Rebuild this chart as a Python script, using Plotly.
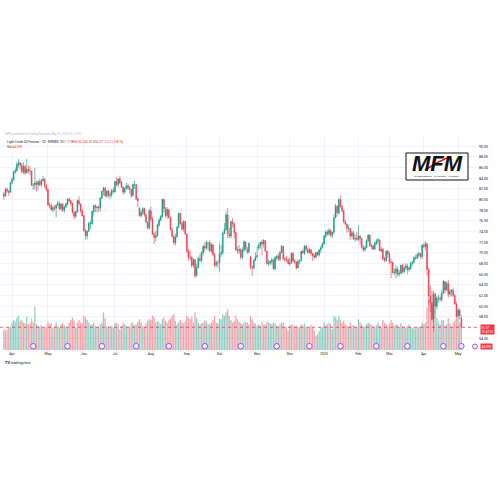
import pandas as pd
import plotly.graph_objects as go

# ---------------- data ----------------
holidays = ["2024-03-29", "2024-05-27", "2024-06-19", "2024-07-04", "2024-09-02",
            "2024-11-28", "2024-12-25", "2025-01-01", "2025-01-20", "2025-02-17", "2025-04-18"]
dates = [d.strftime("%Y-%m-%d") for d in pd.bdate_range("2024-03-22", "2025-05-05")
         if d.strftime("%Y-%m-%d") not in holidays]

opens = [
    81.05, 80.70, 81.90, 81.60, 81.40,
    83.20, 83.75, 85.20, 85.40, 86.60, 86.90, 86.40, 85.20, 86.20, 85.05, 85.70, 85.40, 85.30, 82.70, 82.80, 83.10, 82.80, 83.40, 82.80, 83.60, 83.80, 82.60,
    81.90, 79.00, 78.90, 78.10, 78.50, 78.40, 79.00, 79.30, 78.30, 79.10, 78.00, 78.60, 79.20, 80.10, 79.80, 79.30, 77.60, 76.90, 77.70, 79.80, 79.20, 77.90,
    77.00, 74.20, 73.20, 74.10, 75.50, 75.50, 77.70, 78.90, 78.50, 78.60, 78.40, 80.30, 81.60, 82.20, 80.70, 81.60, 80.80, 80.90, 81.70,
    81.50, 83.40, 82.80, 83.90, 83.20, 82.30, 81.40, 82.10, 82.60, 82.20, 81.90, 80.80, 82.80, 82.80, 80.10, 78.40, 77.00, 77.60, 78.30, 77.10, 75.80, 74.70,
    77.90, 76.30, 73.50, 72.90, 73.20, 75.20, 76.20, 76.80, 80.00, 78.30, 77.00, 78.10, 76.60, 74.30, 73.10, 71.90, 73.00, 74.80, 77.40, 75.50, 74.50, 75.90,
    73.50, 70.30, 69.20, 69.10, 67.70, 68.70, 65.80, 67.30, 68.90, 68.60, 70.00, 71.20, 70.90, 71.90, 71.90, 70.40, 71.50, 69.70, 67.70, 68.20,
    68.20, 69.80, 70.10, 73.70, 74.40, 77.10, 73.50, 73.20, 75.80, 75.50, 73.80, 70.50, 70.40, 70.60, 69.20, 70.50, 72.00, 70.70, 70.20, 69.20, 67.30, 67.20, 68.60,
    69.30, 70.90, 71.40, 72.00, 71.70, 72.30, 70.30, 68.00, 68.10, 68.40, 68.70, 67.00, 69.10, 69.40, 68.80, 70.10, 71.20, 68.90, 68.80, 68.70,
    68.00, 68.10, 69.90, 68.50, 68.30, 67.20, 68.40, 68.60, 70.30, 70.00, 71.30, 70.70, 70.10, 70.60, 69.90, 69.50, 69.20, 70.10, 69.60, 70.60, 71.00,
    71.70, 73.10, 73.90, 73.60, 74.20, 73.30, 73.90, 76.60, 78.80, 77.50, 80.00, 78.70, 77.80, 75.80, 75.40, 74.60, 74.60, 73.20, 73.80, 72.60, 72.70,
    72.50, 73.20, 72.70, 71.00, 70.60, 71.00, 72.30, 73.30, 71.40, 71.30, 70.70, 71.80, 72.30, 72.40, 70.40, 70.70, 68.90, 68.60, 70.30,
    69.80, 68.30, 68.20, 66.30, 66.30, 67.00, 66.00, 66.20, 67.70, 66.50, 67.20, 67.50, 66.90, 67.10, 68.00, 68.30, 69.10, 69.00, 69.60, 69.90, 69.30,
    71.40, 71.20, 71.70, 66.90, 62.00, 60.70, 57.60, 62.30, 60.00, 61.50, 61.50, 61.30, 62.50, 64.60, 63.10, 64.30, 62.30, 62.80, 63.00, 62.00, 60.40,
    58.20, 59.20, 57.77,
]
highs = [
    81.40, 82.20, 82.35, 81.85, 83.30,
    84.20, 85.50, 86.00, 87.10, 87.60, 87.00, 86.80, 87.00, 86.50, 87.67, 86.40, 86.30, 85.40, 83.10, 86.00, 83.60, 83.70, 83.90, 83.80, 84.40, 84.00, 82.90,
    82.10, 79.50, 79.30, 78.90, 78.90, 79.10, 79.80, 79.70, 79.40, 79.40, 78.90, 79.40, 80.20, 80.40, 79.90, 79.40, 77.90, 77.80, 80.00, 80.60, 79.30, 78.30,
    77.10, 74.50, 74.20, 75.90, 76.00, 77.90, 78.90, 79.10, 78.80, 78.90, 80.40, 81.60, 82.40, 82.30, 81.80, 81.90, 81.40, 82.00, 82.30,
    83.50, 84.20, 84.00, 84.50, 83.50, 82.50, 82.30, 83.20, 83.00, 82.60, 82.00, 83.00, 83.60, 82.90, 80.40, 78.60, 78.00, 78.60, 78.50, 77.50, 75.90, 78.30,
    78.70, 76.80, 73.90, 74.10, 75.50, 76.60, 77.10, 80.20, 80.10, 78.60, 78.60, 78.20, 76.80, 74.80, 73.40, 73.60, 75.00, 77.60, 77.50, 75.80, 76.10, 76.00,
    73.60, 70.80, 70.50, 69.50, 69.10, 68.90, 68.00, 69.30, 69.80, 70.30, 71.50, 72.00, 72.30, 72.00, 72.40, 71.90, 71.70, 70.00, 68.60, 68.60,
    71.90, 71.50, 74.00, 75.60, 77.80, 78.46, 74.70, 76.10, 76.60, 75.70, 73.90, 71.20, 71.50, 70.90, 71.10, 72.40, 72.20, 71.20, 72.00, 69.50, 67.70, 68.90, 70.10,
    71.20, 71.80, 72.10, 72.50, 72.60, 72.40, 70.40, 68.80, 68.60, 69.10, 68.90, 69.40, 69.70, 69.90, 70.40, 71.50, 71.40, 69.30, 69.40, 69.10,
    69.00, 70.10, 70.20, 68.90, 68.40, 68.80, 68.80, 70.40, 70.70, 71.40, 71.50, 70.90, 71.00, 70.70, 70.00, 69.90, 70.20, 70.30, 70.70, 71.40, 72.00,
    73.40, 74.20, 74.40, 74.70, 74.40, 74.00, 77.20, 79.20, 78.90, 80.20, 80.77, 79.00, 78.10, 76.20, 75.50, 75.30, 74.80, 74.20, 74.10, 73.50, 73.90,
    75.18, 73.30, 72.80, 71.50, 71.40, 72.60, 73.60, 73.50, 71.70, 71.50, 72.10, 72.60, 72.80, 72.50, 71.10, 70.90, 69.30, 70.50, 70.60,
    70.20, 68.90, 68.40, 67.10, 67.70, 67.40, 66.80, 67.80, 68.00, 67.50, 68.10, 68.00, 67.50, 68.30, 68.50, 69.40, 69.70, 70.00, 70.20, 70.00, 71.60,
    71.90, 72.20, 71.90, 67.20, 63.90, 62.90, 62.90, 62.60, 61.90, 62.20, 62.00, 63.00, 64.90, 64.70, 64.60, 65.00, 63.30, 63.20, 63.50, 62.30, 60.90,
    59.70, 59.60, 58.36,
]
lows = [
    80.00, 80.55, 81.30, 80.70, 81.30,
    82.90, 83.50, 84.80, 85.30, 86.00, 85.60, 84.90, 84.80, 84.60, 84.90, 84.90, 84.60, 82.60, 81.90, 81.80, 81.50, 81.80, 82.50, 82.30, 83.40, 82.20, 81.50,
    78.80, 78.30, 77.90, 77.60, 77.90, 76.70, 78.80, 78.10, 77.90, 77.70, 77.50, 78.50, 78.90, 79.50, 78.80, 77.40, 76.30, 76.50, 77.50, 78.90, 77.50, 76.80,
    73.90, 72.50, 72.50, 73.90, 74.50, 75.30, 77.00, 77.60, 77.60, 77.70, 77.80, 80.10, 80.80, 80.50, 80.30, 80.40, 80.10, 80.40, 81.20,
    81.30, 82.50, 82.30, 82.90, 82.20, 80.90, 81.10, 81.90, 81.80, 81.20, 80.30, 80.50, 82.00, 79.90, 78.60, 76.80, 76.60, 77.10, 76.80, 75.60, 74.40, 74.40,
    75.90, 73.40, 71.70, 72.20, 73.10, 74.90, 75.90, 76.60, 77.60, 76.60, 76.40, 76.40, 74.20, 72.80, 71.50, 71.40, 72.90, 74.70, 75.30, 74.10, 74.00, 73.40,
    70.00, 68.60, 68.60, 67.20, 67.30, 65.27, 65.50, 67.10, 68.30, 68.20, 69.50, 70.20, 70.60, 70.50, 70.20, 70.00, 69.50, 67.30, 67.40, 67.20,
    66.50, 69.20, 69.60, 73.50, 74.20, 72.80, 72.70, 72.80, 74.80, 72.80, 70.30, 69.80, 69.80, 68.80, 68.80, 70.20, 70.50, 69.80, 69.90, 66.90, 65.70, 66.90, 68.50,
    69.00, 70.50, 70.80, 69.60, 71.00, 70.20, 67.80, 67.50, 67.70, 67.80, 66.90, 66.80, 68.60, 68.50, 68.40, 69.90, 68.60, 68.20, 68.30, 67.80,
    67.60, 68.00, 68.30, 67.90, 66.90, 67.10, 67.90, 68.40, 69.80, 69.60, 70.40, 69.90, 69.80, 69.60, 68.50, 68.90, 69.10, 69.50, 69.30, 70.00, 70.90,
    71.60, 72.80, 73.20, 73.20, 72.90, 72.80, 73.60, 76.50, 76.80, 77.20, 78.50, 77.60, 75.60, 75.20, 73.70, 74.00, 72.50, 73.00, 72.40, 72.10, 72.30,
    72.20, 71.50, 70.80, 70.20, 70.30, 70.90, 72.00, 71.10, 70.70, 70.50, 70.60, 71.50, 71.60, 70.30, 70.10, 68.60, 68.20, 68.40, 69.10,
    67.90, 65.30, 66.10, 65.90, 65.20, 65.60, 65.60, 66.00, 66.10, 66.20, 66.80, 66.00, 66.40, 66.90, 67.50, 68.00, 68.80, 68.90, 69.20, 68.90, 68.80,
    70.90, 70.50, 65.70, 60.20, 58.95, 57.40, 55.12, 58.80, 59.40, 60.70, 60.90, 60.80, 62.30, 62.40, 62.80, 61.60, 61.80, 61.80, 61.70, 60.30, 57.90,
    57.40, 57.60, 55.30,
]
closes = [
    80.63, 81.95, 81.62, 81.35, 83.17,
    83.71, 85.15, 85.43, 86.59, 86.91, 86.43, 85.23, 86.21, 85.02, 85.66, 85.41, 85.36, 82.69, 82.73, 83.14, 82.85, 83.36, 82.81, 83.57, 83.85, 82.63, 81.93,
    79.00, 78.95, 78.11, 78.48, 78.38, 78.99, 79.26, 78.26, 79.12, 78.02, 78.63, 79.23, 80.06, 79.80, 79.26, 77.57, 76.87, 77.72, 79.83, 79.23, 77.91, 76.99,
    74.22, 73.25, 74.07, 75.55, 75.53, 77.74, 78.90, 78.50, 78.62, 78.45, 80.33, 81.57, 82.17, 80.73, 81.63, 80.83, 80.90, 81.74, 81.54,
    83.38, 82.81, 83.88, 83.16, 82.33, 81.41, 82.10, 82.62, 82.21, 81.91, 80.76, 82.85, 82.82, 80.13, 79.78, 76.96, 77.59, 78.28, 77.16, 75.81, 74.73, 77.91,
    76.31, 73.52, 72.94, 73.20, 75.23, 76.19, 76.84, 80.06, 78.35, 76.98, 78.16, 76.65, 74.37, 73.17, 71.93, 73.01, 74.83, 77.42, 75.53, 74.52, 75.91, 73.55,
    70.34, 69.20, 69.15, 67.67, 68.71, 65.75, 67.31, 68.97, 68.65, 70.09, 71.19, 70.91, 71.95, 71.92, 70.37, 71.56, 69.69, 67.67, 68.18, 68.17,
    69.83, 70.10, 73.71, 74.38, 77.14, 73.57, 73.24, 75.85, 75.56, 73.83, 70.58, 70.39, 70.67, 69.22, 70.56, 72.09, 70.77, 70.19, 71.78, 67.38, 67.21, 68.61, 69.26,
    69.49, 71.47, 71.99, 71.69, 72.36, 70.38, 68.04, 68.12, 68.43, 68.70, 67.02, 69.16, 69.39, 68.87, 70.10, 71.24, 68.94, 68.77, 68.72, 68.00,
    68.10, 69.94, 68.54, 68.30, 67.20, 68.37, 68.59, 70.29, 70.02, 71.29, 70.71, 70.08, 70.58, 69.91, 69.46, 69.24, 70.10, 69.62, 70.60, 70.99, 71.72,
    73.13, 73.96, 73.56, 74.25, 73.32, 73.92, 76.57, 78.82, 77.50, 80.04, 78.68, 77.88, 75.83, 75.44, 74.62, 74.66, 73.17, 73.77, 72.62, 72.73, 72.53,
    73.16, 72.70, 71.03, 70.61, 71.00, 72.32, 73.32, 71.37, 71.29, 70.74, 71.85, 72.25, 72.48, 70.40, 70.70, 68.93, 68.62, 70.35, 69.76,
    68.37, 68.26, 66.31, 66.36, 67.04, 66.03, 66.25, 67.68, 66.55, 67.18, 67.58, 66.90, 67.16, 68.07, 68.28, 69.11, 69.00, 69.65, 69.92, 69.36, 71.48,
    71.20, 71.71, 66.95, 61.99, 60.70, 57.58, 62.35, 60.07, 61.50, 61.53, 61.33, 62.47, 64.68, 63.08, 64.31, 62.27, 62.79, 63.02, 62.05, 60.42, 58.21,
    59.24, 58.29, 56.07,
]
volumes_k = [
    250, 230, 240, 270, 280,
    330, 360, 340, 390, 410, 350, 360, 330, 320, 400, 310, 330, 370, 330, 520, 310, 290, 280, 300, 270, 260, 280,
    340, 310, 320, 260, 280, 330, 290, 270, 310, 320, 300, 280, 270, 330, 360, 390, 350, 270, 330, 360, 330, 320,
    410, 390, 360, 330, 300, 310, 330, 290, 280, 270, 310, 330, 450, 380, 290, 280, 260, 290, 270,
    320, 330, 310, 250, 290, 330, 310, 290, 270, 280, 320, 330, 300, 310, 340, 370, 330, 290, 280, 320, 350, 370,
    360, 410, 390, 330, 350, 330, 310, 370, 390, 350, 330, 360, 380, 410, 430, 350, 310, 330, 360, 330, 320, 340,
    410, 390, 370, 400, 330, 450, 390, 330, 310, 320, 330, 360, 340, 310, 310, 330, 360, 410, 330, 320,
    380, 370, 430, 410, 450, 490, 410, 360, 330, 350, 410, 370, 340, 320, 310, 330, 340, 330, 310, 410, 370, 330, 320,
    290, 310, 290, 330, 300, 310, 340, 330, 320, 310, 330, 320, 290, 280, 310, 330, 330, 270, 280, 230,
    290, 310, 300, 280, 290, 280, 270, 310, 290, 320, 270, 260, 280, 300, 270, 230, 170, 190, 230, 260, 280,
    330, 290, 310, 330, 310, 250, 410, 390, 360, 410, 360, 330, 350, 310, 290, 280, 330, 290, 300, 280, 270,
    370, 330, 310, 280, 290, 310, 330, 320, 300, 280, 260, 300, 330, 290, 270, 360, 330, 310, 290,
    320, 360, 330, 290, 310, 300, 280, 320, 290, 270, 260, 290, 310, 280, 260, 270, 260, 270, 280, 280, 330,
    310, 330, 510, 590, 610, 550, 630, 470, 380, 340, 310, 350, 360, 290, 310, 380, 320, 280, 330, 350, 410,
    360, 330, 220,
]
month_tick_dates = ["2024-04-01", "2024-05-01", "2024-06-03", "2024-07-01", "2024-08-01", "2024-09-03",
                    "2024-10-01", "2024-11-01", "2024-12-02", "2025-01-02", "2025-02-03", "2025-03-03",
                    "2025-04-01", "2025-05-01"]
month_tick_labels = ["Apr", "May", "Jun", "Jul", "Aug", "Sep", "Oct", "Nov", "Dec", "2025", "Feb", "Mar", "Apr", "May"]
event_dates = ["2024-04-18", "2024-05-17", "2024-06-18", "2024-07-19", "2024-08-16", "2024-09-18",
               "2024-10-18", "2024-11-19", "2024-12-18", "2025-01-16", "2025-02-19", "2025-03-18",
               "2025-04-17", "2025-05-05"]
# 56.00 sits under the live price tag in the reference, so it is not drawn
price_ticks = [54] + list(range(58, 91, 2))

assert len(dates) == len(opens) == len(highs) == len(lows) == len(closes) == len(volumes_k), (
    len(dates), len(opens), len(highs), len(lows), len(closes), len(volumes_k))

# ---------------- styling ----------------
UP = "#089981"
DOWN = "#F23645"
UP_VOL = "rgba(8,153,129,0.45)"
DOWN_VOL = "rgba(242,54,69,0.45)"
GRID = "#f0f3fa"
TXT = "#131722"

PLOT_TOP, PLOT_BOTTOM, PLOT_RIGHT = 137, 350, 478
PH = PLOT_BOTTOM - PLOT_TOP


def py(pix):  # pixel row -> paper y
    return (PLOT_BOTTOM - pix) / PH


def px(pix):  # pixel column -> paper x
    return pix / PLOT_RIGHT


vol_colors = [UP_VOL if c >= o else DOWN_VOL for o, c in zip(opens, closes)]

fig = go.Figure()
fig.add_trace(go.Bar(x=dates, y=volumes_k, marker=dict(color=vol_colors, line=dict(width=0)),
                     yaxis="y", xaxis="x", showlegend=False, hoverinfo="skip"))
fig.add_trace(go.Candlestick(x=dates, open=opens, high=highs, low=lows, close=closes,
                             increasing=dict(line=dict(color=UP, width=0.6), fillcolor=UP),
                             decreasing=dict(line=dict(color=DOWN, width=0.6), fillcolor=DOWN),
                             whiskerwidth=0, yaxis="y2", xaxis="x", showlegend=False))
fig.add_trace(go.Scatter(x=event_dates, y=[0.018] * len(event_dates), yaxis="y3", mode="markers",
                         marker=dict(symbol="circle", size=5.5, color="#f3e8fd",
                                     line=dict(color="#8e4ddb", width=0.9)),
                         showlegend=False, hoverinfo="skip"))

x_lo = -3.83 / 1.634
x_hi = (PLOT_RIGHT - 3.83) / 1.634
p_top = 72 + (242.3 - PLOT_TOP) / 5.335
p_bot = 72 - (PLOT_BOTTOM - 242.3) / 5.335

fig.update_layout(
    width=500, height=500,
    margin=dict(l=0, r=500 - PLOT_RIGHT, t=PLOT_TOP, b=500 - PLOT_BOTTOM),
    paper_bgcolor="white", plot_bgcolor="white",
    bargap=0.2, showlegend=False, hovermode=False, dragmode=False,
    xaxis=dict(type="category", range=[x_lo, x_hi], tickvals=month_tick_dates, ticktext=month_tick_labels,
               showgrid=True, gridcolor=GRID, gridwidth=1, ticks="", showline=False, zeroline=False,
               rangeslider=dict(visible=False), tickfont=dict(size=3.6, color=TXT, family="Roboto"),
               categoryorder="array", categoryarray=dates),
    yaxis=dict(range=[0, PH * 12], visible=False, fixedrange=True),
    yaxis2=dict(overlaying="y", side="right", range=[p_bot, p_top], tickvals=price_ticks,
                ticktext=[f"{v:.2f}" for v in price_ticks], showgrid=True, gridcolor=GRID, gridwidth=1,
                zeroline=False, showline=False, ticks="", tickfont=dict(size=3.6, color=TXT, family="Roboto")),
    yaxis3=dict(overlaying="y", range=[0, 1], visible=False),
)

# current price line
fig.add_shape(type="line", xref="paper", x0=0, x1=1, yref="y2", y0=closes[-1], y1=closes[-1],
              line=dict(color=DOWN, width=0.8, dash="dot"))

chg = closes[-1] - closes[-2]
pct = chg / closes[-2] * 100
red = lambda s: f"<span style='color:{DOWN}'>{s}</span>"
header = (f"Light Crude Oil Futures · 1D · NYMEX&nbsp;&nbsp;O{red(f'{opens[-1]:.2f}')} H{red(f'{highs[-1]:.2f}')} "
          f"L{red(f'{lows[-1]:.2f}')} C{red(f'{closes[-1]:.2f}')} {red(f'{chg:.2f} ({pct:.2f}%)')}")
fig.add_annotation(xref="paper", yref="paper", x=px(5), y=py(141.5), text=header, showarrow=False,
                   xanchor="left", yanchor="middle", font=dict(size=3.2, color=TXT, family="Roboto"))
vol_label = f"{volumes_k[-1] / 5:.2f}K"
fig.add_annotation(xref="paper", yref="paper", x=px(5), y=py(146.5), text=f"Vol {red(vol_label)}",
                   showarrow=False, xanchor="left", yanchor="middle", font=dict(size=3.2, color=TXT, family="Roboto"))
fig.add_annotation(xref="paper", yref="paper", x=px(3), y=py(133.5),
                   text="MFM published on TradingView.com, May 05, 2025 15:12 UTC", showarrow=False,
                   xanchor="left", yanchor="middle", font=dict(size=2.8, color="#b2b5be", family="Roboto"))

# right-hand price label + countdown
fig.add_annotation(xref="paper", yref="y2", x=px(480), y=closes[-1], yshift=3, text=f"{closes[-1]:.2f}<br>10:47:51",
                   showarrow=False, xanchor="left", yanchor="top", bgcolor=DOWN, borderpad=0.5,
                   font=dict(size=3.1, color="white", family="Roboto"), align="left")
fig.add_annotation(xref="paper", yref="paper", x=px(480), y=py(346.5), text=vol_label,
                   showarrow=False, xanchor="left", yanchor="middle", bgcolor=DOWN, borderpad=0.5,
                   font=dict(size=3.1, color="white", family="Roboto"))
fig.add_shape(type="circle", xref="paper", yref="paper", x0=px(472.5), x1=px(477.5), y0=py(349), y1=py(344),
              line=dict(color="#8e4ddb", width=0.9), fillcolor="#f3e8fd")

# MFM logo
fig.add_shape(type="rect", xref="paper", yref="paper", x0=px(406), x1=px(468), y0=py(180), y1=py(153),
              line=dict(color="#111111", width=1), fillcolor="white")
fig.add_annotation(xref="paper", yref="paper", x=px(437), y=py(163.5), text="<b><i>MFM</i></b>", showarrow=False,
                   xanchor="center", yanchor="middle", font=dict(size=22, color="#111111", family="Liberation Sans"))
fig.add_shape(type="path", xref="paper", yref="paper",
              path=f"M {px(425)},{py(170)} Q {px(437)},{py(162)} {px(449)},{py(157)}",
              line=dict(color="#d21f26", width=1.6))
fig.add_annotation(xref="paper", yref="paper", x=px(437), y=py(176.5), text="INVESTMENTS · MARKETS · HISTORY",
                   showarrow=False, xanchor="center", yanchor="middle",
                   font=dict(size=2.5, color="#111111", family="Liberation Sans"))

# TradingView logo
fig.add_annotation(xref="paper", yref="paper", x=px(3), y=py(362), text="<b>TV</b> tradingview", showarrow=False,
                   xanchor="left", yanchor="middle", font=dict(size=3.8, color=TXT, family="Roboto"))

fig.write_html("out.html", config={"displayModeBar": False, "staticPlot": True},
               post_script="document.body.style.margin='0';document.body.style.overflow='hidden';")
